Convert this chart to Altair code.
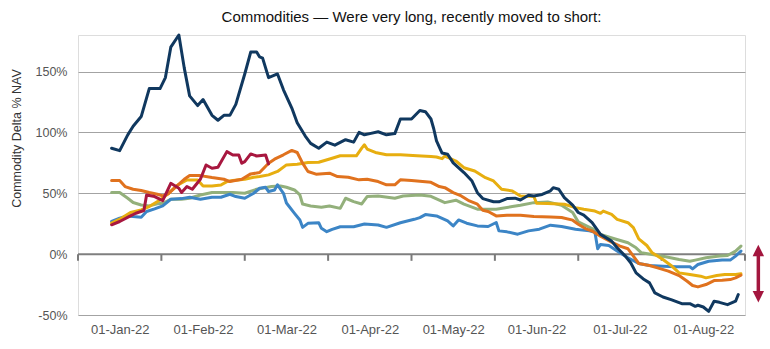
import altair as alt
import pandas as pd

# ---------------- data ----------------
month_labels = ["01-Jan-22", "01-Feb-22", "01-Mar-22", "01-Apr-22",
                "01-May-22", "01-Jun-22", "01-Jul-22", "01-Aug-22"]
y_ticks = [-50, 0, 50, 100, 150]

navy_dates = ["2021-12-29", "2022-01-01", "2022-01-04", "2022-01-06", "2022-01-09", "2022-01-12",
              "2022-01-16", "2022-01-18", "2022-01-20", "2022-01-23", "2022-01-25", "2022-01-27",
              "2022-01-30", "2022-02-01", "2022-02-04", "2022-02-06", "2022-02-08", "2022-02-10",
              "2022-02-12", "2022-02-15", "2022-02-17", "2022-02-19", "2022-02-20", "2022-02-21",
              "2022-02-23", "2022-02-26", "2022-02-28", "2022-03-03", "2022-03-05", "2022-03-08",
              "2022-03-10", "2022-03-13", "2022-03-16", "2022-03-19", "2022-03-23", "2022-03-26",
              "2022-03-28", "2022-03-30", "2022-04-01", "2022-04-04", "2022-04-07", "2022-04-10",
              "2022-04-12", "2022-04-16", "2022-04-19", "2022-04-21", "2022-04-23", "2022-04-24",
              "2022-04-25", "2022-04-27", "2022-04-29", "2022-05-01", "2022-05-05", "2022-05-08",
              "2022-05-10", "2022-05-12", "2022-05-16", "2022-05-18", "2022-05-21", "2022-05-24",
              "2022-05-26", "2022-05-29", "2022-05-31", "2022-06-03", "2022-06-06", "2022-06-07",
              "2022-06-09", "2022-06-11", "2022-06-14", "2022-06-16", "2022-06-18", "2022-06-21",
              "2022-06-24", "2022-06-28", "2022-06-30", "2022-07-03", "2022-07-05", "2022-07-07",
              "2022-07-10", "2022-07-12", "2022-07-14", "2022-07-17", "2022-07-20", "2022-07-24",
              "2022-07-27", "2022-07-29", "2022-07-30", "2022-08-01", "2022-08-03", "2022-08-05",
              "2022-08-07", "2022-08-10", "2022-08-13", "2022-08-14"]
navy_vals = [87, 85, 98, 105, 113, 136,
             136, 145, 170, 180, 153, 130,
             122, 127, 114, 110, 114, 114,
             123, 148, 166, 166, 162, 161,
             145, 148, 135, 120, 108, 97,
             91, 87, 92, 89.5, 94, 92,
             100, 98, 99, 100.5, 98, 99,
             111, 111, 118, 117, 111, 103,
             93, 83, 82, 75, 67, 60,
             50.5, 45.6, 43, 43, 45.6, 46,
             44.5, 48.4, 47.8, 49, 52, 54.6,
             53.3, 46.4, 40.2, 34.2, 32, 25.8,
             16.2, 10.7, 5.2, -1.6, -7.1, -15.4,
             -20.9, -23.6, -31.9, -35.2, -37.4, -40.7,
             -40.7, -42.9, -42, -43.4, -47, -38.7,
             -39.6, -41.5, -38.7, -33.2]

orange_dates = ["2021-12-29", "2022-01-01", "2022-01-03", "2022-01-06", "2022-01-09", "2022-01-12",
                "2022-01-15", "2022-01-17", "2022-01-19", "2022-01-22", "2022-01-25", "2022-01-27",
                "2022-01-31", "2022-02-04", "2022-02-08", "2022-02-10", "2022-02-14", "2022-02-17",
                "2022-02-20", "2022-02-23", "2022-02-25", "2022-02-28", "2022-03-03", "2022-03-05",
                "2022-03-07", "2022-03-09", "2022-03-12", "2022-03-17", "2022-03-20", "2022-03-24",
                "2022-03-28", "2022-03-31", "2022-04-04", "2022-04-07", "2022-04-10", "2022-04-12",
                "2022-04-16", "2022-04-19", "2022-04-23", "2022-04-26", "2022-04-28", "2022-05-01",
                "2022-05-04", "2022-05-07", "2022-05-10", "2022-05-12", "2022-05-14", "2022-05-17",
                "2022-05-21", "2022-05-26", "2022-05-31", "2022-06-06", "2022-06-10", "2022-06-14",
                "2022-06-16", "2022-06-19", "2022-06-21", "2022-06-24", "2022-06-28", "2022-07-01",
                "2022-07-04", "2022-07-06", "2022-07-08", "2022-07-12", "2022-07-15", "2022-07-19",
                "2022-07-23", "2022-07-26", "2022-07-28", "2022-07-30", "2022-08-02", "2022-08-05",
                "2022-08-08", "2022-08-11", "2022-08-13", "2022-08-15"]
orange_vals = [60.4, 60.4, 55.5, 53.3, 52.2, 50.6,
               49.2, 47.8, 49.5, 55.5, 61.5, 64.5,
               64.5, 62.9, 61.5, 59.6, 61.5, 65.9,
               67, 74.7, 78, 81.6, 85.2, 83.5,
               74.7, 67.9, 65.7, 66.5, 63.7, 63.2,
               61, 61.5, 59.6, 56.9, 56.9, 61,
               60.4, 59.8, 59, 55.5, 54.6, 50.5,
               47.8, 43.7, 41, 36.1, 35, 31.4,
               32, 32, 30.9, 30.6, 30.1, 27.9,
               24.6, 20.5, 19, 14.8, 9.9, 6.6,
               4.4, -1.6, -7.7, -9.3, -11.3, -14,
               -17.6, -22.3, -25.8, -26.9, -25, -21.7,
               -21.4, -20.9, -19.5, -17.3]

gold_dates = ["2021-12-29", "2022-01-01", "2022-01-05", "2022-01-09", "2022-01-12", "2022-01-16",
              "2022-01-19", "2022-01-22", "2022-01-26", "2022-01-30", "2022-02-01", "2022-02-04",
              "2022-02-07", "2022-02-09", "2022-02-11", "2022-02-15", "2022-02-18", "2022-02-20",
              "2022-02-23", "2022-02-26", "2022-03-01", "2022-03-05", "2022-03-09", "2022-03-13",
              "2022-03-18", "2022-03-21", "2022-03-27", "2022-03-29", "2022-03-30", "2022-03-31",
              "2022-04-03", "2022-04-07", "2022-04-12", "2022-04-18", "2022-04-23", "2022-04-25",
              "2022-04-27", "2022-04-28", "2022-05-02", "2022-05-05", "2022-05-09", "2022-05-13",
              "2022-05-16", "2022-05-19", "2022-05-23", "2022-05-26", "2022-05-31", "2022-06-01",
              "2022-06-05", "2022-06-11", "2022-06-15", "2022-06-18", "2022-06-22", "2022-06-24",
              "2022-06-25", "2022-06-28", "2022-06-30", "2022-07-04", "2022-07-06", "2022-07-08",
              "2022-07-11", "2022-07-13", "2022-07-17", "2022-07-20", "2022-07-23", "2022-07-27",
              "2022-07-31", "2022-08-02", "2022-08-06", "2022-08-09", "2022-08-13", "2022-08-15"]
gold_vals = [25.4, 28.7, 34.2, 36.3, 39.1, 44.5,
             49.5, 56, 60.9, 60.9, 56, 56,
             56.8, 59.6, 60.4, 61.5, 63.1, 63.7,
             65.1, 67.9, 73.3, 73.9, 75.3, 75.5,
             78.8, 80.8, 80.8, 87.1, 89.8, 86.3,
             83.5, 81.6, 81.6, 80.8, 80.2, 79.8,
             78.4, 80.6, 76.5, 71, 68.3, 62.8,
             60.1, 53.3, 51.9, 47.8, 47.3, 41.8,
             41.5, 41, 38.2, 36.9, 35.4, 33.5,
             35.4, 32.7, 28.6, 25.8, 21.7, 12.6,
             7.1, 1.1, -4.4, -9.3, -15.4, -16.8,
             -18.1, -19.5, -17.6, -16.8, -16.8, -16.2]

green_dates = ["2021-12-29", "2022-01-01", "2022-01-04", "2022-01-06", "2022-01-09", "2022-01-12",
               "2022-01-15", "2022-01-17", "2022-01-20", "2022-01-24", "2022-01-27", "2022-01-31",
               "2022-02-04", "2022-02-07", "2022-02-11", "2022-02-15", "2022-02-19", "2022-02-24",
               "2022-02-27", "2022-03-01", "2022-03-04", "2022-03-06", "2022-03-07", "2022-03-10",
               "2022-03-14", "2022-03-17", "2022-03-21", "2022-03-23", "2022-03-26", "2022-03-29",
               "2022-03-31", "2022-04-04", "2022-04-10", "2022-04-13", "2022-04-19", "2022-04-23",
               "2022-04-28", "2022-05-02", "2022-05-05", "2022-05-10", "2022-05-13", "2022-05-17",
               "2022-05-23", "2022-05-26", "2022-05-31", "2022-06-05", "2022-06-10", "2022-06-14",
               "2022-06-16", "2022-06-21", "2022-06-24", "2022-06-29", "2022-07-04", "2022-07-07",
               "2022-07-09", "2022-07-13", "2022-07-18", "2022-07-23", "2022-07-27", "2022-07-29",
               "2022-08-02", "2022-08-07", "2022-08-10", "2022-08-13", "2022-08-15"]
green_vals = [50.6, 50.6, 45.9, 42.4, 40.4, 39.6,
              41.3, 41.8, 45.1, 45.1, 45.9, 48.6,
              50.6, 50.6, 50.6, 50, 53.3, 55.5,
              56, 54.9, 52.7, 48.6, 41.2, 39.6,
              38.5, 39.6, 37.6, 45.9, 43.1, 41.2,
              47.3, 47.8, 45.9, 47.8, 48.5, 47.5,
              42.3, 44.3, 41, 36.9, 36.9, 36.9,
              39.1, 40.2, 42.3, 42.9, 40.2, 34.2,
              26.5, 21, 16.2, 12.6, 9.3, 5.2,
              1.1, -0.3, -2.2, -4.4, -5.8, -4.9,
              -3, -1.6, -1.1, 2.5, 6.6]

blue_dates = ["2021-12-29", "2022-01-01", "2022-01-04", "2022-01-06", "2022-01-09", "2022-01-11",
              "2022-01-14", "2022-01-17", "2022-01-20", "2022-01-24", "2022-01-27", "2022-01-31",
              "2022-02-04", "2022-02-07", "2022-02-10", "2022-02-12", "2022-02-15", "2022-02-18",
              "2022-02-20", "2022-02-22", "2022-02-23", "2022-02-25", "2022-02-26", "2022-02-28",
              "2022-03-01", "2022-03-04", "2022-03-06", "2022-03-07", "2022-03-09", "2022-03-13",
              "2022-03-14", "2022-03-16", "2022-03-18", "2022-03-21", "2022-03-26", "2022-03-30",
              "2022-04-04", "2022-04-07", "2022-04-12", "2022-04-17", "2022-04-19", "2022-04-21",
              "2022-04-25", "2022-04-29", "2022-05-01", "2022-05-03", "2022-05-06", "2022-05-10",
              "2022-05-14", "2022-05-17", "2022-05-18", "2022-05-21", "2022-05-25", "2022-05-29",
              "2022-06-02", "2022-06-06", "2022-06-10", "2022-06-15", "2022-06-20", "2022-06-22",
              "2022-06-23", "2022-06-24", "2022-06-27", "2022-06-30", "2022-07-04", "2022-07-08",
              "2022-07-12", "2022-07-17", "2022-07-22", "2022-07-27", "2022-07-28", "2022-07-30",
              "2022-08-03", "2022-08-08", "2022-08-11", "2022-08-13", "2022-08-15"]
blue_vals = [26.8, 29.5, 31.4, 30.9, 30.3, 35,
             37.2, 39.6, 45.1, 45.6, 46.7, 45.1,
             46.7, 46.7, 49.2, 47.3, 45.9, 50,
             54.1, 54.9, 51.4, 52.7, 56.9, 50,
             42, 33.5, 28, 22, 25.3, 25.8,
             21.2, 18.4, 20.3, 22.5, 22.5, 24.7,
             23.9, 22, 25.8, 28.6, 30, 32.5,
             31.4, 27.3, 23.2, 28.1, 25.4, 23.2,
             22.7, 26, 19.1, 18.3, 16.4, 19.1,
             20.5, 23.8, 22.7, 20.5, 19.1, 18,
             4.4, 8, 7.1, 2.5, -3, -7.7,
             -9.3, -9.9, -10.4, -10.4, -12.1, -8.5,
             -5.8, -4.9, -4.9, -1.6, 2.5]

crimson_dates = ["2021-12-29", "2022-01-01", "2022-01-05", "2022-01-07", "2022-01-10", "2022-01-11",
                 "2022-01-14", "2022-01-17", "2022-01-20", "2022-01-23", "2022-01-24", "2022-01-26",
                 "2022-01-28", "2022-01-31", "2022-02-02", "2022-02-04", "2022-02-06", "2022-02-09",
                 "2022-02-11", "2022-02-13", "2022-02-14", "2022-02-15", "2022-02-17", "2022-02-19",
                 "2022-02-22", "2022-02-23"]
crimson_vals = [24.1, 26.8, 31.4, 33.6, 35.8, 48.6,
                47.3, 44, 58.2, 54.1, 50.6, 55.5,
                53.3, 61.5, 73.2, 70.5, 71.3, 84.2,
                81.4, 81.4, 74.6, 76, 82.3, 80.6,
                81.4, 74.1]

# annotation arrow (data units: month position, % NAV)
arrow_pos = 7.66
arrow_top, arrow_bottom = 3.0, -35.0

# drawing order: first drawn sits underneath
series = [
    ("Green", green_dates, green_vals, "#93B07B"),
    ("Blue", blue_dates, blue_vals, "#3C85C6"),
    ("Gold", gold_dates, gold_vals, "#E7AE10"),
    ("Orange", orange_dates, orange_vals, "#E0721E"),
    ("Crimson", crimson_dates, crimson_vals, "#A8173F"),
    ("Navy", navy_dates, navy_vals, "#10385F"),
]


def month_pos(d):
    ts = pd.Timestamp(d)
    return (ts.year - 2022) * 12 + (ts.month - 1) + (ts.day - 1) / ts.days_in_month


FONT = "Liberation Sans"
xscale = alt.Scale(domain=[-0.5, 7.5], nice=False, zero=False)
yscale = alt.Scale(domain=[-50, 180], nice=False, zero=False)

label_expr = "[" + ",".join("'" + m + "'" for m in month_labels) + "][round(datum.value)]"
xaxis = alt.Axis(values=list(range(len(month_labels))), labelExpr=label_expr, grid=False,
                 ticks=False, domain=False, title=None, labelFont=FONT, labelFontSize=13,
                 labelColor="#555555", labelPadding=8, labelOverlap=False)
yaxis = alt.Axis(values=y_ticks, labelExpr="datum.value + '%'", grid=True, gridColor="#a3a3a3",
                 gridWidth=1, domain=False, ticks=False, labelFont=FONT, labelFontSize=12.5,
                 labelColor="#555555", labelPadding=11, title="Commodity Delta % NAV",
                 titleFont=FONT, titleFontSize=12.5, titleFontWeight="normal",
                 titleColor="#333333", titleX=-55, titleY=103)

# gridlines + y axis, zero line
zero_df = pd.DataFrame({"v": [0]})
zero_line = alt.Chart(zero_df).mark_rule(color="#7f7f7f", strokeWidth=2).encode(
    y=alt.Y("v:Q", scale=yscale, axis=yaxis)
)

# small category ticks hanging below the zero line, between month labels
tick_df = pd.DataFrame({"t": [i - 0.5 for i in range(len(month_labels) + 1)]})
tick_df["y0"] = 0
tick_df["y1"] = -5.5
ticks = alt.Chart(tick_df).mark_rule(color="#7a7a7a", strokeWidth=2).encode(
    x=alt.X("t:Q", scale=xscale, axis=xaxis),
    y=alt.Y("y0:Q", scale=yscale),
    y2="y1:Q",
)

layers = [zero_line, ticks]
for name, dates, vals, col in series:
    df = pd.DataFrame({"date": dates, "value": vals})
    df["t"] = [month_pos(d) for d in dates]
    df["series"] = name
    layers.append(
        alt.Chart(df).mark_line(color=col, strokeWidth=3, strokeJoin="round", strokeCap="round").encode(
            x=alt.X("t:Q", scale=xscale, axis=xaxis),
            y=alt.Y("value:Q", scale=yscale, axis=yaxis),
        )
    )

arrow_col = "#A3163E"
shaft_df = pd.DataFrame({"t": [arrow_pos], "y1": [arrow_top], "y2": [arrow_bottom]})
shaft = alt.Chart(shaft_df).mark_rule(color=arrow_col, strokeWidth=3.5).encode(
    x=alt.X("t:Q", scale=xscale), y=alt.Y("y1:Q", scale=yscale), y2="y2:Q"
)
head_up = alt.Chart(pd.DataFrame({"t": [arrow_pos], "v": [arrow_top]})).mark_point(
    shape="M0,-1L1,1L-1,1Z", filled=True, size=130, color=arrow_col, opacity=1
).encode(x=alt.X("t:Q", scale=xscale), y=alt.Y("v:Q", scale=yscale))
head_down = alt.Chart(pd.DataFrame({"t": [arrow_pos], "v": [arrow_bottom]})).mark_point(
    shape="M0,1L1,-1L-1,-1Z", filled=True, size=130, color=arrow_col, opacity=1
).encode(x=alt.X("t:Q", scale=xscale), y=alt.Y("v:Q", scale=yscale))
layers += [shaft, head_up, head_down]

chart = alt.layer(*layers).properties(
    width=667,
    height=280,
    autosize=alt.AutoSizeParams(type="none"),
    padding={"left": 78, "top": 35, "right": 25, "bottom": 34},
    title=alt.TitleParams(
        "Commodities \u2014 Were very long, recently moved to short:",
        font=FONT, fontSize=15, fontWeight="normal", color="#111111",
        anchor="middle", offset=9,
    ),
).configure_view(stroke=None).configure(background="white")

chart.save("out.html", embed_options={"renderer": "svg", "actions": False})
